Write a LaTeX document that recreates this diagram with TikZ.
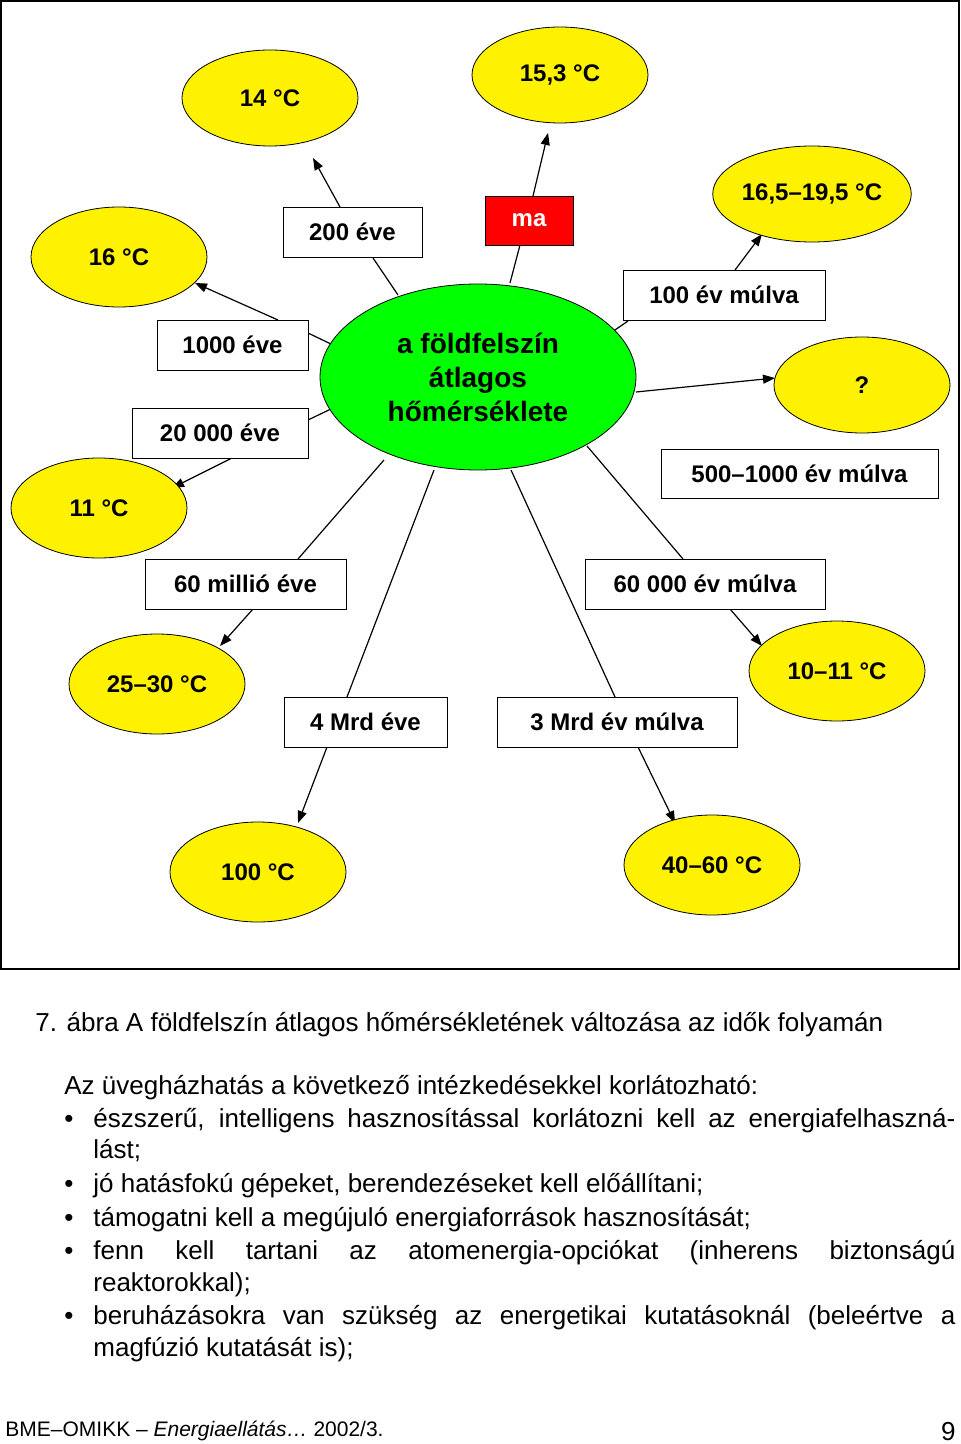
\documentclass[tikz,border=0pt]{standalone}
\usepackage{fontspec}
\setmainfont{Liberation Sans}
\usetikzlibrary{shapes.geometric,arrows.meta}
\begin{document}
\begin{tikzpicture}[x=0.5pt,y=-0.5pt,
 ell/.style={ellipse,draw,fill=yellow,minimum width=88pt, minimum height=48pt,inner sep=0pt,font=\fontsize{12}{14}\selectfont\bfseries},
 bx/.style={draw,fill=white,inner sep=0pt,font=\fontsize{12}{14}\selectfont\bfseries},
 ln/.style={line width=0.6pt},
 ar/.style={line width=0.6pt,-{Triangle[length=6pt,width=4.5pt]}},
 txt/.style={anchor=base west,inner sep=0pt,font=\fontsize{13}{15}\selectfont}]
\useasboundingbox (0,0) rectangle (960,1444);
\draw[line width=1pt] (1,1) rectangle (959,969);
% lines
\draw[ln] (398,295)--(373,258); \draw[ar] (340,207)--(313,158);
\draw[ln] (510,283)--(520,245); \draw[ar] (533,196)--(548,133);
\draw[ln] (612,332)--(628,321); \draw[ar] (735,270)--(762,234);
\draw[ln] (333,345)--(308,333); \draw[ar] (278,320)--(195,283);
\draw[ln] (333,408)--(308,420); \draw[ar] (232,458)--(172,488);
\draw[ar] (636,392)--(775,378);
\draw[ln] (384,460)--(298,559); \draw[ar] (253,609)--(220,646);
\draw[ln] (587,446)--(683,559); \draw[ar] (730,609)--(762,646);
\draw[ln] (434,470)--(347,697); \draw[ar] (327,747)--(298,823);
\draw[ln] (511,470)--(615,697); \draw[ar] (638,747)--(675,823);
% center
\node[ellipse,draw,fill=green,minimum width=158pt,minimum height=93pt,inner sep=0pt,align=center,font=\fontsize{14}{17}\selectfont\bfseries] (c) at (478,377) {a földfelszín\\átlagos\\hőmérséklete};
% ellipses
\node[ell] (e14) at (270,98) {14 °C};
\node[ell] (e153) at (560,75) {15,3 °C};
\node[ell,minimum height=50pt] (e16) at (119,257) {16 °C};
\node[ell] (e165) at (812,194) {16,5–19,5 °C};
\node[ell] (eq) at (862,385) {?};
\node[ell,minimum height=50pt] (e11) at (99,508) {11 °C};
\node[ell,minimum height=50pt] (e25) at (157,684) {25–30 °C};
\node[ell,minimum height=50pt] (e10) at (837,671) {10–11 °C};
\node[ell,minimum height=50pt] (e100) at (258,872) {100 °C};
\node[ell,minimum height=50pt] (e40) at (712,865) {40–60 °C};
% boxes
\node[bx,minimum width=69.5pt,minimum height=25pt] (b200) at (352.5,232) {200 éve};
\node[bx,fill=red,text=white,minimum width=44pt,minimum height=24.5pt] (bma) at (529,220.5) {ma};
\node[bx,minimum width=101pt,minimum height=25pt] (b100) at (724,295) {100 év múlva};
\node[bx,minimum width=75.5pt,minimum height=25pt] (b1000) at (232.5,345) {1000 éve};
\node[bx,minimum width=88pt,minimum height=25pt] (b20000) at (220,433) {20 000 éve};
\node[bx,minimum width=138.5pt,minimum height=24.5pt] (b500) at (799.5,473.5) {500–1000 év múlva};
\node[bx,minimum width=100.5pt,minimum height=25pt] (b60m) at (245.5,584) {60 millió éve};
\node[bx,minimum width=120pt,minimum height=25pt] (b60e) at (705,584) {60 000 év múlva};
\node[bx,minimum width=81.5pt,minimum height=25pt] (b4) at (365.5,722) {4 Mrd éve};
\node[bx,minimum width=120pt,minimum height=25pt] (b3) at (617,722) {3 Mrd év múlva};
% text
\node[txt] (cap) at (35,1031) {7. ábra A földfelszín átlagos hőmérsékletének változása az idők folyamán};
\node[txt] (t0) at (64,1094) {Az üvegházhatás a következő intézkedésekkel korlátozható:};
\foreach \y in {1127,1192,1226,1259,1324} \node[txt] at (64,\y) {•};
\node[txt] (t1) at (93,1127) {\makebox[431pt][s]{észszerű, intelligens hasznosítással korlátozni kell az energiafelhaszná-}};
\node[txt] (t2) at (93,1158) {lást;};
\node[txt] (t3) at (93,1192) {jó hatásfokú gépeket, berendezéseket kell előállítani;};
\node[txt] (t4) at (93,1226) {támogatni kell a megújuló energiaforrások hasznosítását;};
\node[txt] (t5) at (93,1259) {\makebox[431pt][s]{fenn kell tartani az atomenergia-opciókat (inherens biztonságú}};
\node[txt] (t6) at (93,1291) {reaktorokkal);};
\node[txt] (t7) at (93,1324) {\makebox[431pt][s]{beruházásokra van szükség az energetikai kutatásoknál (beleértve a}};
\node[txt] (t8) at (93,1356) {magfúzió kutatását is);};
\node[txt,font=\fontsize{10.5}{12}\selectfont] (ft) at (5,1436) {BME–OMIKK – \textit{Energiaellátás…} 2002/3.};
\node[txt,anchor=base east,font=\fontsize{13}{15}\selectfont] (pg) at (956,1440) {9};
\end{tikzpicture}
\end{document}
